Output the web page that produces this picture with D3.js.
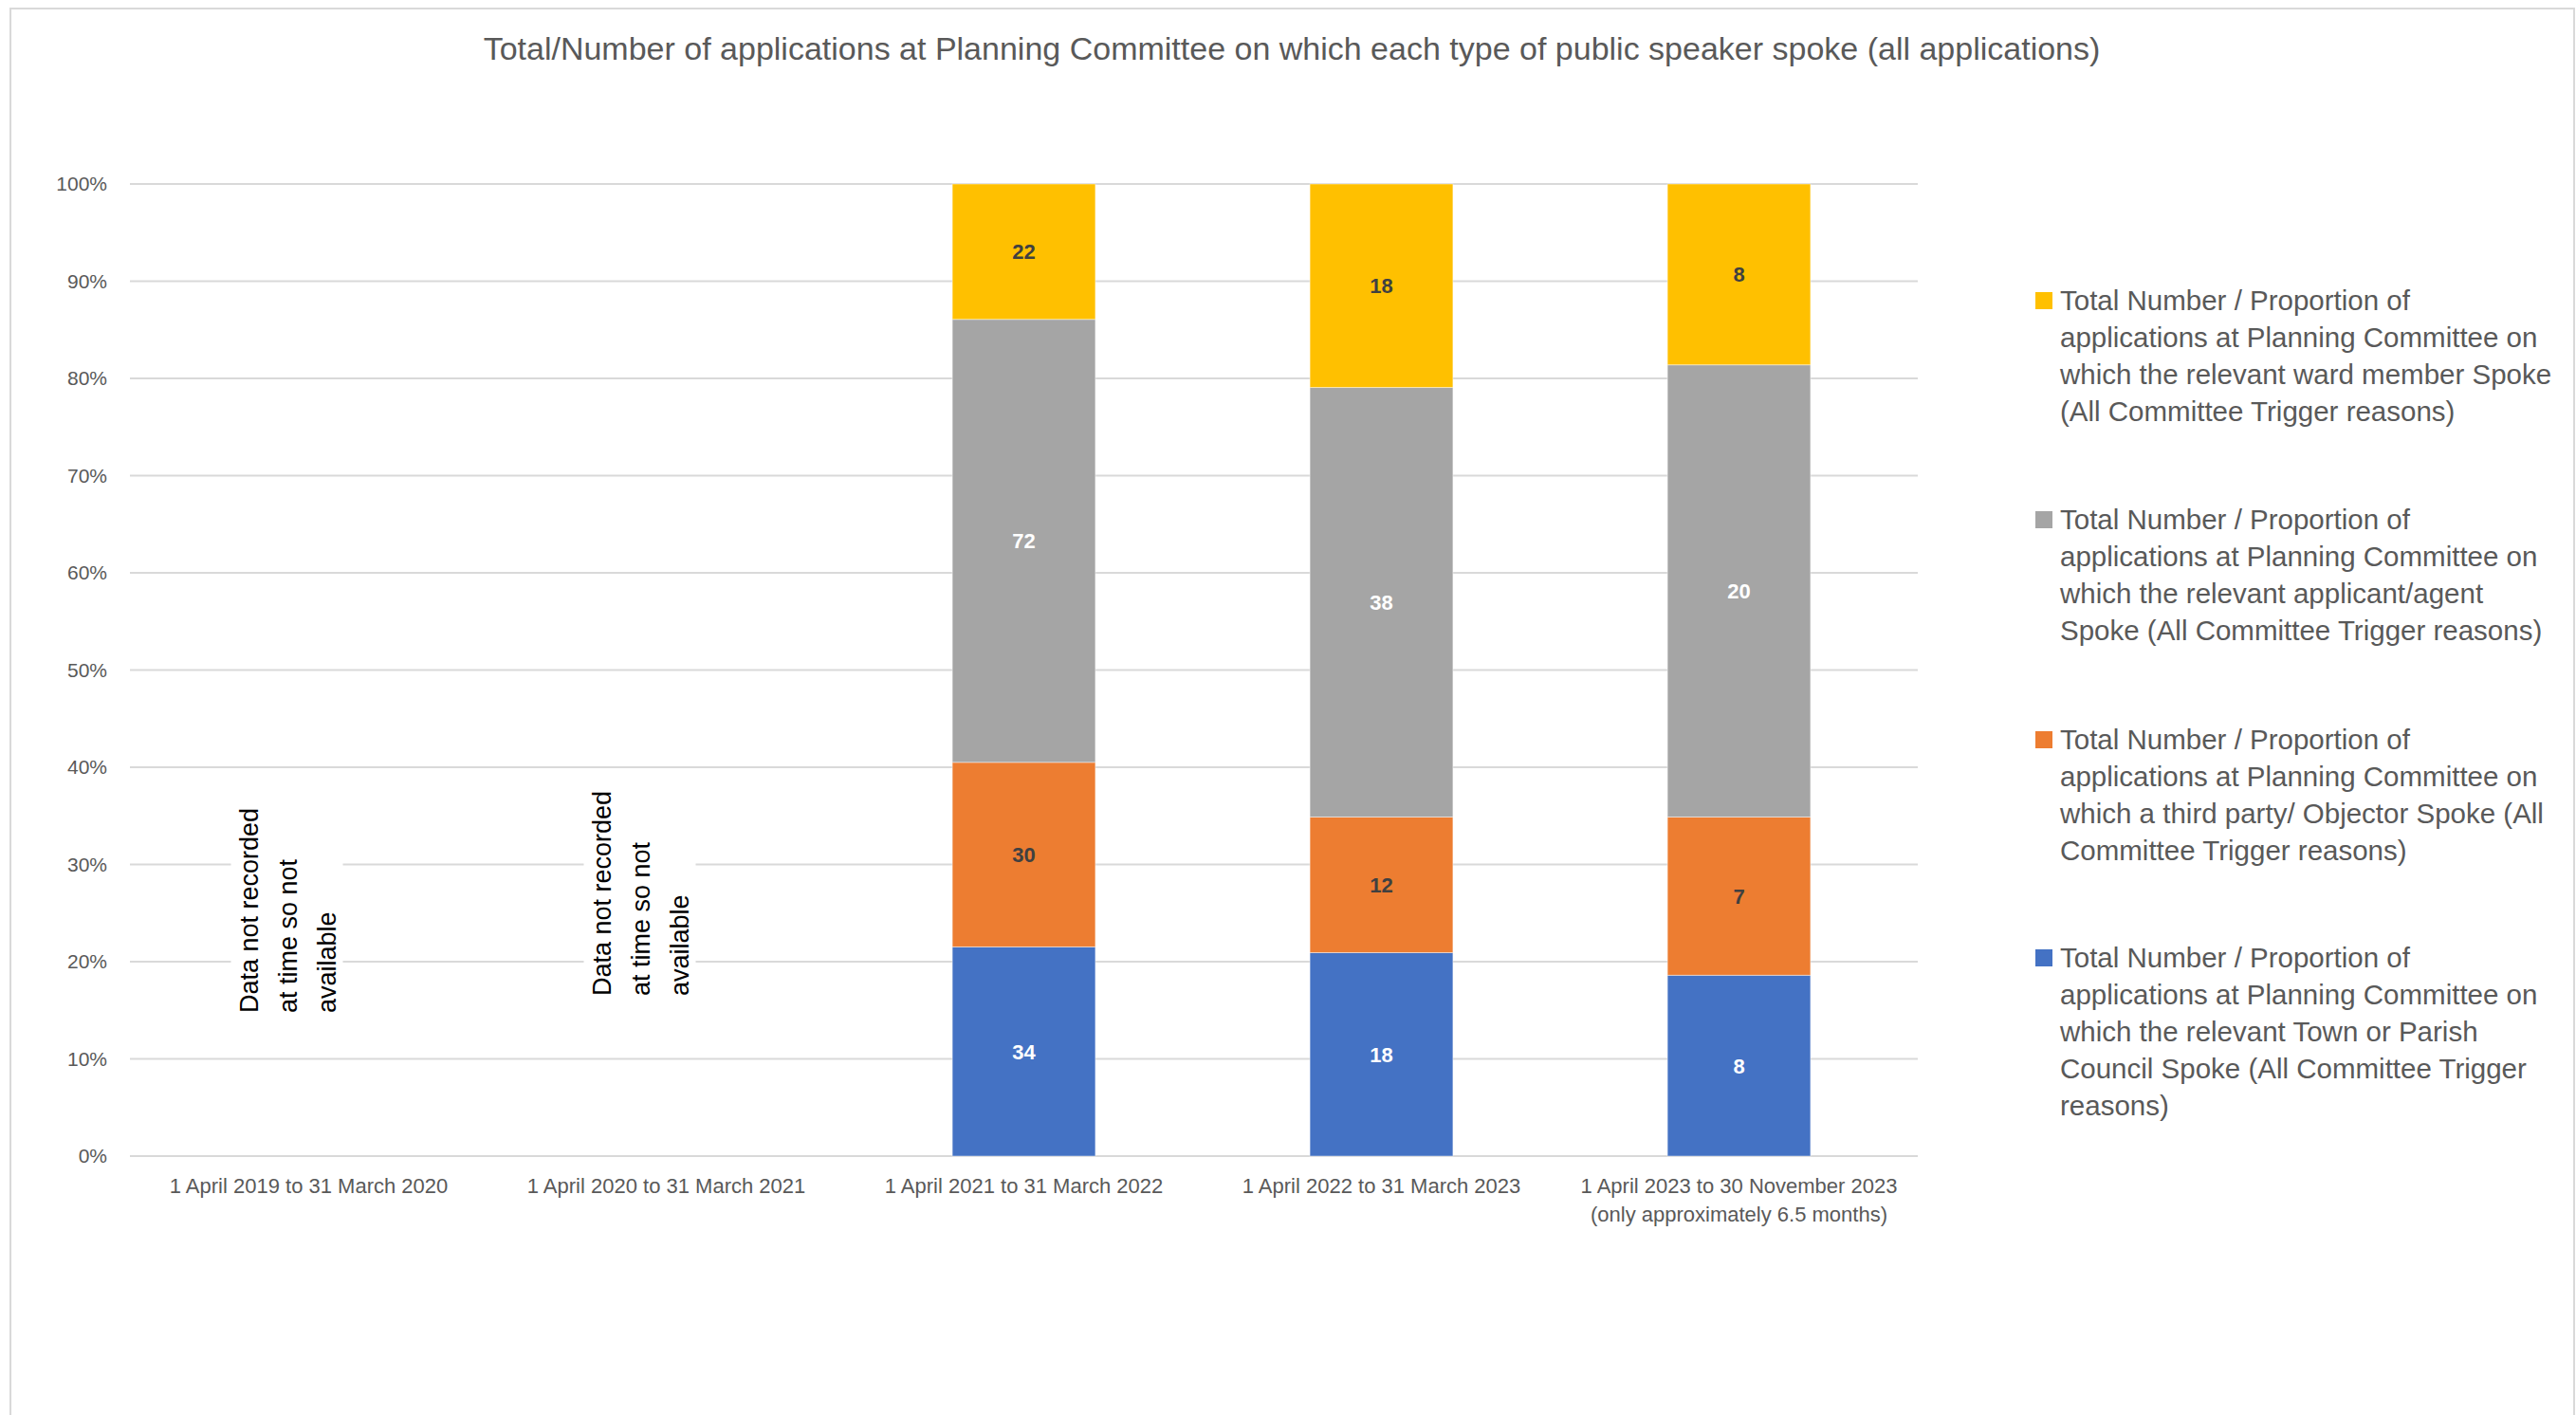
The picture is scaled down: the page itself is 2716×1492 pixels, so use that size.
<!DOCTYPE html>
<html>
<head>
<meta charset="utf-8">
<script src="https://cdn.jsdelivr.net/npm/d3@7"></script>
<style>
  html, body { margin: 0; padding: 0; background: #ffffff; }
  svg { display: block; }
</style>
</head>
<body>
<script>
// ---------- DATA ----------
const categories = [
  "1 April 2019 to 31 March 2020",
  "1 April 2020 to 31 March 2021",
  "1 April 2021 to 31 March 2022",
  "1 April 2022 to 31 March 2023",
  "1 April 2023 to 30 November 2023\n(only approximately 6.5 months)"
];
const townParish  = [null, null, 34, 18, 8];
const thirdParty  = [null, null, 30, 12, 7];
const applicant   = [null, null, 72, 38, 20];
const wardMember  = [null, null, 22, 18, 8];
const yTicks = [0, 0.1, 0.2, 0.3, 0.4, 0.5, 0.6, 0.7, 0.8, 0.9, 1.0];
const seriesNames = [
  "Total Number / Proportion of applications at Planning Committee on which the relevant Town or Parish Council Spoke (All Committee Trigger reasons)",
  "Total Number / Proportion of applications at Planning Committee on which a third party/ Objector Spoke (All Committee Trigger reasons)",
  "Total Number / Proportion of applications at Planning Committee on which the relevant applicant/agent Spoke (All Committee Trigger reasons)",
  "Total Number / Proportion of applications at Planning Committee on which the relevant ward member Spoke (All Committee Trigger reasons)"
];
// legend line breaks (as shown in the chart), top-to-bottom legend order
const legendLines = [
  ["Total Number / Proportion of", "applications at Planning Committee on", "which the relevant ward member Spoke", "(All Committee Trigger reasons)"],
  ["Total Number / Proportion of", "applications at Planning Committee on", "which the relevant applicant/agent", "Spoke (All Committee Trigger reasons)"],
  ["Total Number / Proportion of", "applications at Planning Committee on", "which a third party/ Objector Spoke (All", "Committee Trigger reasons)"],
  ["Total Number / Proportion of", "applications at Planning Committee on", "which the relevant Town or Parish", "Council Spoke (All Committee Trigger", "reasons)"]
];
const noDataText = ["Data not recorded", "at time so not", "available"];
const title = "Total/Number of applications at Planning Committee on which each type of public speaker spoke (all applications)";

// ---------- STYLE ----------
const W = 2716, H = 1492;
const colors = ["#4472C4", "#ED7D31", "#A5A5A5", "#FFC000"];
const labelColors = ["#ffffff", "#404040", "#ffffff", "#404040"];
const textGray = "#595959";
const gridGray = "#D9D9D9";
const FONT = "'Liberation Sans', Arial, sans-serif";
const plot = { left: 137, right: 2022, top: 194, bottom: 1219 };

const svg = d3.select("body").append("svg").attr("width", W).attr("height", H);

// frame
svg.append("rect").attr("x", 11).attr("y", 9).attr("width", 2703).attr("height", H + 20)
  .attr("fill", "#fff").attr("stroke", gridGray).attr("stroke-width", 2);

// title
svg.append("text").attr("x", 1362).attr("y", 63).attr("text-anchor", "middle")
  .attr("font-family", FONT).attr("font-size", 34).attr("fill", textGray)
  .text(title);

// scales
const x = d3.scaleBand().domain(categories).range([plot.left, plot.right])
  .paddingInner(0.6).paddingOuter(0.3);
const y = d3.scaleLinear().domain([0, 1]).range([plot.bottom, plot.top]);

// gridlines
svg.append("g").selectAll("line").data(yTicks).join("line")
  .attr("x1", plot.left).attr("x2", plot.right)
  .attr("y1", d => y(d)).attr("y2", d => y(d))
  .attr("stroke", gridGray).attr("stroke-width", 2);

// y tick labels
const yAxis = svg.append("g").attr("transform", `translate(${plot.left},0)`)
  .call(d3.axisLeft(y).tickValues(yTicks).tickFormat(d3.format(".0%")).tickSize(0).tickPadding(24));
yAxis.select(".domain").remove();
yAxis.selectAll("text").attr("font-family", FONT).attr("font-size", 21).attr("fill", textGray);

// x axis labels
const xAxis = svg.append("g").attr("transform", `translate(0,${plot.bottom})`)
  .call(d3.axisBottom(x).tickSize(0).tickFormat(""));
xAxis.select(".domain").remove();
xAxis.selectAll(".tick").each(function(d) {
  const lines = d.split("\n");
  const g = d3.select(this);
  lines.forEach((ln, i) => {
    g.append("text").attr("x", 0).attr("y", 39 + i * 30).attr("text-anchor", "middle")
      .attr("font-family", FONT).attr("font-size", 22).attr("fill", textGray)
      .text(ln);
  });
});

// stacked percent bars
const rows = categories.map((c, i) => ({
  cat: c, s0: townParish[i], s1: thirdParty[i], s2: applicant[i], s3: wardMember[i]
})).filter(r => r.s0 !== null);
const keys = ["s0", "s1", "s2", "s3"];
const stacked = d3.stack().keys(keys).offset(d3.stackOffsetExpand)(rows);

const layers = svg.append("g").selectAll("g").data(stacked).join("g")
  .attr("fill", (d, i) => colors[i]);
layers.selectAll("rect").data(d => d).join("rect")
  .attr("x", d => x(d.data.cat)).attr("width", x.bandwidth())
  .attr("y", d => y(d[1])).attr("height", d => y(d[0]) - y(d[1]))
  .attr("stroke", "#ffffff").attr("stroke-opacity", 0.45).attr("stroke-width", 1);

// data labels
stacked.forEach((layer, li) => {
  svg.append("g").selectAll("text").data(layer).join("text")
    .attr("x", d => x(d.data.cat) + x.bandwidth() / 2)
    .attr("y", d => (y(d[0]) + y(d[1])) / 2 + 8)
    .attr("text-anchor", "middle")
    .attr("font-family", FONT).attr("font-size", 22).attr("font-weight", "bold")
    .attr("fill", labelColors[li])
    .text(d => d.data[layer.key]);
});

// "data not recorded" annotations
const missing = categories.filter((c, i) => townParish[i] === null);
const annoOffsets = [{ dx: -64, y0: 1068 }, { dx: -69, y0: 1050 }];
missing.forEach((c, mi) => {
  const cx = x(c) + x.bandwidth() / 2 + annoOffsets[mi].dx;
  const y0 = annoOffsets[mi].y0;
  const g = svg.append("g");
  g.append("rect").attr("x", cx - 18).attr("y", y0 - 240).attr("width", 118).attr("height", 252)
    .attr("fill", "#ffffff");
  noDataText.forEach((ln, i) => {
    const bx = cx + i * 41 + 10;
    g.append("text")
      .attr("transform", `translate(${bx},${y0}) rotate(-90)`)
      .attr("font-family", FONT).attr("font-size", 27).attr("fill", "#000000")
      .text(ln);
  });
});

// legend
const legendOrder = [3, 2, 1, 0];
const legendTop = [317, 548, 780, 1010];
legendOrder.forEach((si, li) => {
  const g = svg.append("g").attr("transform", `translate(2146,${legendTop[li]})`);
  g.append("rect").attr("x", 0).attr("y", -9).attr("width", 18).attr("height", 18).attr("fill", colors[si])
    .append("title").text(seriesNames[si]);
  legendLines[li].forEach((ln, i) => {
    g.append("text").attr("x", 26).attr("y", 10 + i * 39)
      .attr("font-family", FONT).attr("font-size", 29.5).attr("fill", textGray)
      .text(ln);
  });
});
</script>
</body>
</html>
